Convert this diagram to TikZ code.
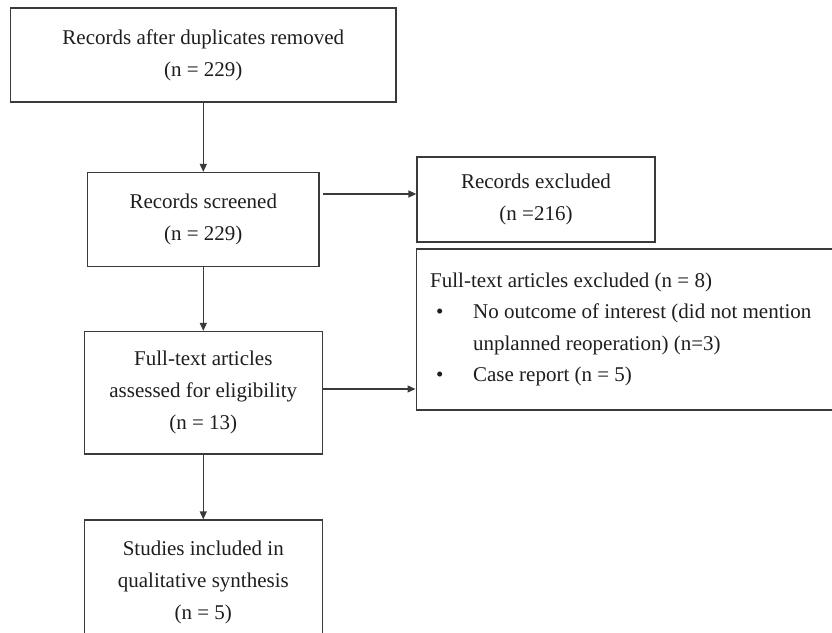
\documentclass[tikz,border=0pt]{standalone}
\usepackage{fontspec}
\setmainfont{Liberation Serif}
\usetikzlibrary{arrows.meta}
\definecolor{linec}{HTML}{3A3A3A}
\definecolor{textc}{HTML}{1E1E1E}
\tikzset{
  box/.style={draw=linec, line width=1.3pt, rectangle, inner sep=0pt, align=center, text=textc},
  arr/.style={draw=linec, line width=1.3pt, -{Triangle[length=8pt,width=7pt]}}
}
\begin{document}
\begin{tikzpicture}[x=1pt, y=-1pt, font=\fontsize{21}{32}\selectfont]
\useasboundingbox (0,0) rectangle (832,632);
\clip (0,0) rectangle (832,632);
\fill[white] (0,0) rectangle (832,632);

\node[box, minimum width=385.5pt, minimum height=94pt] (b1) at (203.3,55)
  {Records after duplicates removed\\(n = 229)};
\node[box, minimum width=231.5pt, minimum height=94pt] (b2) at (203.3,219.5)
  {Records screened\\(n = 229)};
\node[box, minimum width=238pt, minimum height=85pt] (b3) at (536,199.5)
  {Records excluded\\(n =216)};
\node[box, minimum width=238pt, minimum height=122.5pt] (b5) at (203.3,392.75)
  {Full-text articles\\assessed for eligibility\\(n = 13)};
\node[box, minimum width=238pt, minimum height=124pt] (b6) at (203.3,582)
  {Studies included in\\qualitative synthesis\\(n = 5)};
\node[box, anchor=west, minimum height=161pt, minimum width=440pt,
      align=flush left, text width=412pt, inner xsep=13.5pt,
      font=\fontsize{21}{31.5}\selectfont] (b4) at (415.5,329.5)
  {Full-text articles excluded (n = 8)\\
   \makebox[43pt][l]{\hspace{6pt}•}No outcome of interest (did not mention\\
   \hspace*{43pt}unplanned reoperation) (n=3)\\
   \makebox[43pt][l]{\hspace{6pt}•}Case report (n = 5)};

\coordinate (s23) at (323,194);
\coordinate (s54) at (322,389);

\draw[arr] (b1.south) -- (b2.north);
\draw[arr] (b2.south) -- (b5.north);
\draw[arr] (b5.south) -- (b6.north);
\draw[arr] (s23) -- (s23 -| b3.west);
\draw[arr] (s54) -- (s54 -| b4.west);
\end{tikzpicture}
\end{document}
